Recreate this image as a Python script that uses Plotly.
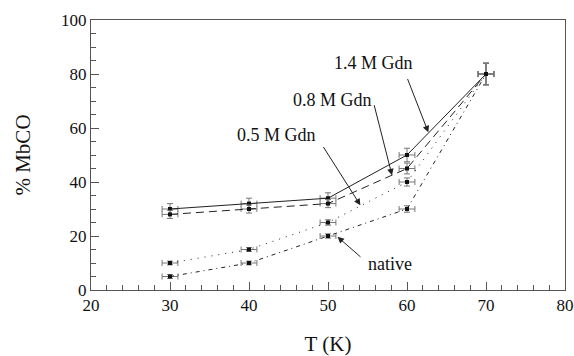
import plotly.graph_objects as go

T = [30, 40, 50, 60, 70]
gdn14 = [30, 32, 34, 50, 80]
gdn08 = [28, 30, 32, 45, 80]
gdn05 = [10, 15, 25, 40, 80]
native = [5, 10, 20, 30, 80]

err14 = [2, 2, 2, 2.5, 4]
err08 = [1.5, 1.5, 1.5, 2, 4]
err05 = [0.7, 0.7, 1, 1.5, 4]
errn = [0.7, 0.7, 0.8, 1.2, 4]
xerr = [1, 1, 1, 1, 1]

series = [
    ("1.4 M Gdn", gdn14, err14, "solid"),
    ("0.8 M Gdn", gdn08, err08, "8px,5px"),
    ("0.5 M Gdn", gdn05, err05, "1px,6px"),
    ("native", native, errn, "4px,4px,1px,4px"),
]

fig = go.Figure()
for name, ys, ey, dash in series:
    fig.add_trace(go.Scatter(
        x=T, y=ys, mode="lines+markers", name=name,
        line=dict(color="#222", width=1, dash=dash),
        marker=dict(symbol="square", size=4, color="#111"),
        error_y=dict(type="data", array=ey, color="#777", thickness=1, width=3),
        error_x=dict(type="data", array=xerr, color="#777", thickness=1, width=3),
        showlegend=False,
    ))

serif = "Liberation Serif"

# labels: (text, text_x, text_y, tail_x, tail_y, tip_x, tip_y) in data coords
labels = [
    ("1.4 M Gdn", 55.7, 84.0, 60.0, 78.7, 62.7, 58.4),
    ("0.8 M Gdn", 50.6, 70.5, 55.8, 69.0, 58.1, 42.5),
    ("0.5 M Gdn", 43.5, 57.5, 49.3, 53.5, 54.1, 31.4),
    ("native", 57.9, 9.5, 54.3, 11.8, 51.2, 19.7),
]
for text, tx, ty, ax_, ay_, px, py in labels:
    fig.add_annotation(x=tx, y=ty, text=text, showarrow=False,
                       font=dict(family=serif, size=18, color="#111"))
    fig.add_annotation(x=px, y=py, ax=ax_, ay=ay_, axref="x", ayref="y",
                       text="", showarrow=True, arrowhead=2, arrowsize=1.3,
                       arrowwidth=1, arrowcolor="#222")

axis_common = dict(
    showgrid=False, zeroline=False, showline=True, linecolor="#555",
    linewidth=1, mirror=True, ticks="inside", tickcolor="#555",
    tickfont=dict(family=serif, size=17, color="#111"), automargin=False,
)
fig.update_xaxes(range=[20, 80], tickvals=[20, 30, 40, 50, 60, 70, 80],
                 ticklen=8, minor=dict(dtick=2, ticks="inside", ticklen=5, tickcolor="#555"),
                 title=dict(text="T (K)", font=dict(family=serif, size=21, color="#111"), standoff=21),
                 **axis_common)
fig.update_yaxes(range=[0, 100], tickvals=[0, 20, 40, 60, 80, 100],
                 ticklen=8, minor=dict(dtick=5, ticks="inside", ticklen=5, tickcolor="#555"),
                 title=dict(text="% MbCO", font=dict(family=serif, size=21, color="#111"), standoff=24),
                 **axis_common)

fig.update_layout(
    width=574, height=356,
    margin=dict(l=91, r=9, t=20, b=66),
    paper_bgcolor="white", plot_bgcolor="white",
    font=dict(family=serif),
)
fig.write_html("out.html")
